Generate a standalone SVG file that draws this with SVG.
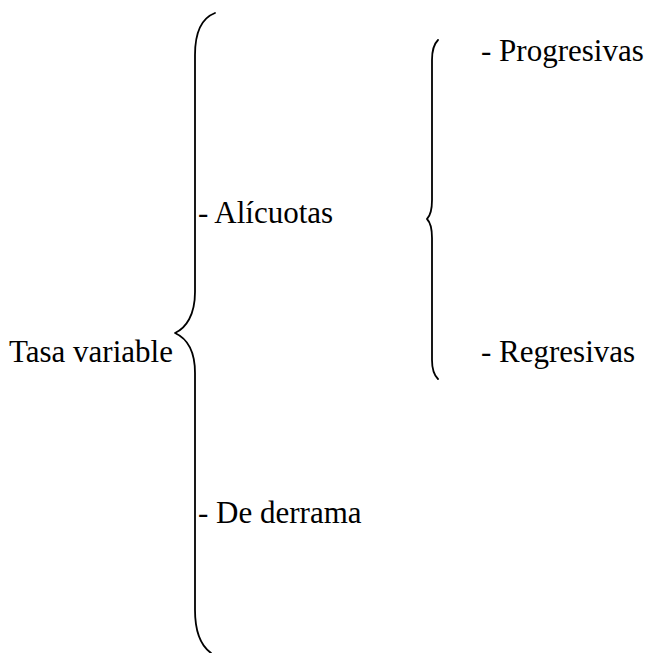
<svg xmlns="http://www.w3.org/2000/svg" width="653" height="653" viewBox="0 0 653 653">
<style>
.t{font-family:"Liberation Serif","Times New Roman",serif;font-size:31px;fill:#000}
.b{fill:none;stroke:#000;stroke-width:1.8;stroke-linecap:round;stroke-linejoin:round}
</style>
<rect width="653" height="653" fill="#fff"/>
<g id="connectors">
<path class="b" d="M215,13 C202,18 195,32 195,55 L195,292 C195,315 186,328 175,333 C186,338 195,350 195,373 L195,610 C195,630 200,645 211,653"/>
<path class="b" d="M438,40 C434,44 432,50 432,60 L432,200 C432,210 430,216 427,219 C430,222 432,228 432,238 L432,360 C432,370 434,375 438,379"/>
</g>
<g id="tasa"><text class="t" x="9" y="362">Tasa variable</text></g>
<g id="alicuotas"><text class="t" x="198" y="223">- Alícuotas</text></g>
<g id="derrama"><text class="t" x="198" y="523">- De derrama</text></g>
<g id="progresivas"><text class="t" x="481" y="61">- Progresivas</text></g>
<g id="regresivas"><text class="t" x="481" y="362">- Regresivas</text></g>
</svg>
